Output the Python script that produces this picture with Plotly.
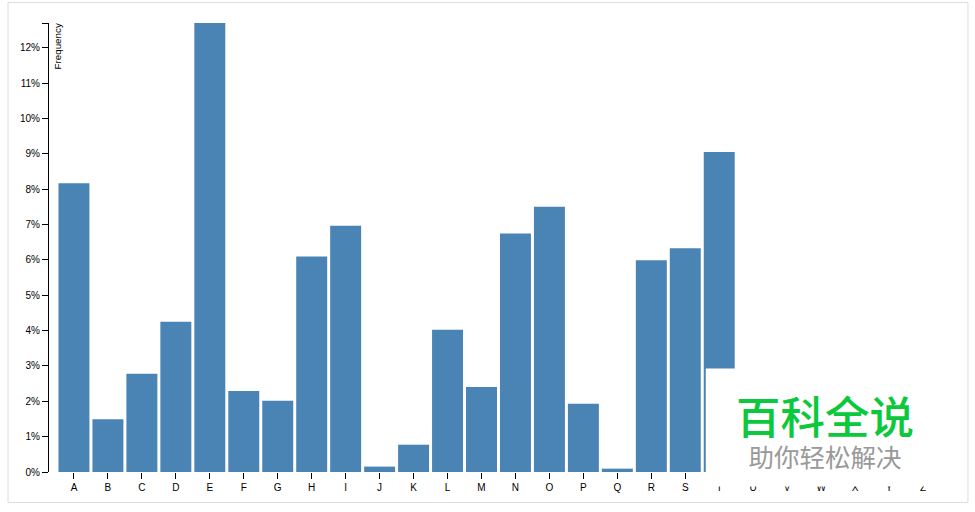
import plotly.graph_objects as go

WIDTH = 975
HEIGHT = 512

# Letter frequencies in percent. U-Z sit behind the watermark box and are estimates
letters = list("ABCDEFGHIJKLMNOPQRSTUVWXYZ")
frequency = [
    8.167, 1.492, 2.782, 4.253, 12.702, 2.288, 2.015, 6.094, 6.966, 0.153,
    0.772, 4.025, 2.406, 6.749, 7.507, 1.929, 0.095, 5.987, 6.327, 9.056,
    2.758, 0.978, 2.360, 0.150, 1.974, 0.074,
]
y_ticks = [0, 1, 2, 3, 4, 5, 6, 7, 8, 9, 10, 11, 12]
y_labels = ["0%", "1%", "2%", "3%", "4%", "5%", "6%", "7%", "8%", "9%", "10%", "11%", "12%"]

BAR_COLOR = "#4a84b4"
FONT = "Liberation Sans"
CJK = "Noto Sans CJK SC"

# plot area in page pixels
left, right, top, bottom = 48.5, 940.5, 23, 472.5


def px(x):
    return (x - left) / (right - left)


def py(y):
    return (bottom - y) / (bottom - top)


fig = go.Figure(
    go.Bar(x=letters, y=frequency, marker_color=BAR_COLOR, marker_line_width=0)
)

fig.update_xaxes(
    type="category",
    range=[-0.735, -0.735 + (right - left) / 34],
    ticks="outside",
    ticklen=6,
    tickwidth=1,
    tickcolor="black",
    showgrid=False,
    showline=False,
    zeroline=False,
    tickfont=dict(family=FONT, size=10, color="black"),
)
fig.update_yaxes(
    range=[0, max(frequency)],
    tickvals=y_ticks + [max(frequency)],
    ticktext=y_labels + [""],
    ticks="outside",
    ticklen=6,
    tickwidth=1,
    tickcolor="black",
    showgrid=False,
    showline=True,
    linecolor="black",
    linewidth=1,
    zeroline=False,
    tickfont=dict(family=FONT, size=10, color="black"),
)

# frame around the chart
fig.add_shape(
    type="rect", xref="paper", yref="paper",
    x0=px(7.5), x1=px(968.5), y0=py(503), y1=py(2.5),
    line=dict(color="#dddddd", width=1), fillcolor="rgba(0,0,0,0)",
)
# white box of the watermark, it hides the end of the chart
fig.add_shape(
    type="rect", xref="paper", yref="paper", layer="above",
    x0=px(706), x1=px(955), y0=py(487), y1=py(369),
    line_width=0, fillcolor="white",
)

fig.add_annotation(
    text="Frequency", textangle=-90, showarrow=False,
    xref="paper", yref="paper", x=px(57.5), y=py(21.5),
    xanchor="center", yanchor="top",
    font=dict(family=FONT, size=9.8, color="black"),
)
# both watermark lines in one text, the base size sets the line spacing
fig.add_annotation(
    text=(
        '<span style="font-size:44.5px;fill:#0cc83c;font-weight:500">百科全说</span><br>'
        '<span style="font-size:25.5px;fill:#999999">助你轻松解决</span>'
    ),
    showarrow=False, align="center",
    xref="paper", yref="paper", x=px(825.5), y=py(428),
    xanchor="center", yanchor="middle",
    font=dict(family=CJK, size=25, color="#999999"),
)

fig.update_layout(
    width=WIDTH,
    height=HEIGHT,
    margin=dict(l=left, r=WIDTH - right, t=top, b=HEIGHT - bottom, pad=0),
    bargap=3 / 34,
    showlegend=False,
    plot_bgcolor="white",
    paper_bgcolor="white",
)

fig.write_html(
    "out.html",
    config=dict(displayModeBar=False),
    post_script="document.body.style.margin = '0';",
)
